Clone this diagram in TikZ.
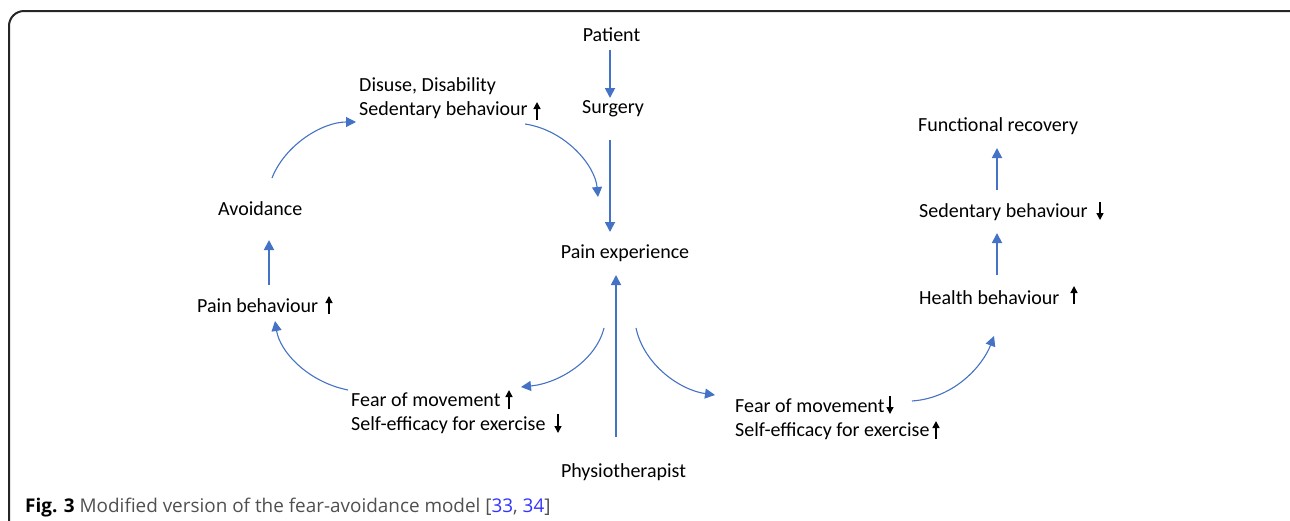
\documentclass[tikz,border=0pt]{standalone}
\usepackage{fontspec}
\setmainfont{Carlito}
\newfontfamily\capfont{Open Sans}
\usetikzlibrary{arrows.meta,calc}
\definecolor{obl}{HTML}{4472C4}
\definecolor{capgray}{HTML}{505050}
\definecolor{reflink}{HTML}{3333FF}
\definecolor{framec}{HTML}{262626}
\begin{document}
\begin{tikzpicture}[x=1pt,y=-1pt,
  lbl/.style={inner sep=0pt,font=\fontsize{20}{24}\selectfont,align=left},
  sarr/.style={obl,line width=1.8pt,-{Triangle[length=10pt,width=10pt]}},
  carr/.style={obl,line width=1.1pt,-{Triangle[length=10pt,width=10pt]}},
  trendarr/.style={black,line width=1.4pt,-{Triangle[length=7pt,width=7pt]}}]
\useasboundingbox (0,0) rectangle (1290,520);
\begin{scope}
\clip (0,0) rectangle (1290,520);
\draw[framec,line width=2pt,rounded corners=15pt] (9,560) -- (9,11) -- (1303,11) -- (1303,560);
\end{scope}
% nodes
\node[lbl,anchor=base] (pat) at (611.5,41) {Patient};
\node[lbl,anchor=base] (surg) at (613,113) {Surgery};
\node[lbl,anchor=base] (pexp) at (625,258) {Pain experience};
\node[lbl,anchor=base] (phys) at (623.5,477) {Physiotherapist};
\node[lbl,anchor=base west] (dis) at (359,115) {Disuse, Disability\\Sedentary behaviour};
\node[lbl,anchor=base west] (avoid) at (218,215) {Avoidance};
\node[lbl,anchor=base west] (pbeh) at (197,312) {Pain behaviour};
\node[lbl,anchor=base west] (fearL) at (351,430) {Fear of movement\\Self-efficacy for exercise};
\node[lbl,anchor=base west] (fearR) at (735,436) {Fear of movement\\Self-efficacy for exercise};
\node[lbl,anchor=base west] (health) at (919,304) {Health behaviour};
\node[lbl,anchor=base west] (sedR) at (919,217) {Sedentary behaviour};
\node[lbl,anchor=base west] (func) at (918,131) {Functional recovery};
\node[inner sep=0pt,anchor=base west,font=\capfont\fontsize{18.9}{22}\selectfont,text=capgray] (cap) at (25,512)
  {\textcolor{black}{\bfseries Fig. 3} Modified version of the fear-avoidance model [\textcolor{reflink}{33}, \textcolor{reflink}{34}]};
% straight connectors
\draw[sarr] ([shift={(-1.5,9)}]pat.base) -- ([shift={(-3,-15)}]surg.base);
\draw[sarr] ([shift={(-3,27)}]surg.base) -- ([shift={(-15,-26)}]pexp.base);
\draw[sarr] ([shift={(-7.5,-40)}]phys.base) -- ([shift={(-9,17)}]pexp.base);
\draw[sarr] ([shift={(72,-27)}]pbeh.base west) -- ([shift={(51,25)}]avoid.base west);
\draw[sarr] ([shift={(78,-29)}]health.base west) -- ([shift={(78,16)}]sedR.base west);
\draw[sarr] ([shift={(78,-27)}]sedR.base west) -- ([shift={(79,17)}]func.base west);
% curved connectors
\draw[carr] ([shift={(54,-37)}]avoid.base west) .. controls (285,145) and (322,122) .. ([shift={(-3,7)}]dis.base west);
\draw[carr] ([shift={(166,9)}]dis.base west) .. controls (565,130) and (595,165) .. ([shift={(-27,-61)}]pexp.base);
\draw[carr] ([shift={(-21,70)}]pexp.base) .. controls (596,360) and (560,383) .. ([shift={(170,-43)}]fearL.base west);
\draw[carr] ([shift={(-3,-40)}]fearL.base west) .. controls (308,382) and (280,352) .. ([shift={(78,9)}]pbeh.base west);
\draw[carr] ([shift={(11,70)}]pexp.base) .. controls (644,365) and (680,390) .. ([shift={(-20,-41)}]fearR.base west);
\draw[carr] ([shift={(177,-35)}]fearR.base west) .. controls (955,398) and (983,365) .. ([shift={(75,32)}]health.base west);
% up/down trend marks
\draw[trendarr] (537,120) -- (537,102);
\draw[trendarr] (329,314) -- (329,296);
\draw[trendarr] (509,409) -- (509,390);
\draw[trendarr] (558,414) -- (558,433);
\draw[trendarr] (890,396) -- (890,414);
\draw[trendarr] (936,439) -- (936,421);
\draw[trendarr] (1100,202) -- (1100,220);
\draw[trendarr] (1074,304) -- (1074,286);
\end{tikzpicture}
\end{document}
